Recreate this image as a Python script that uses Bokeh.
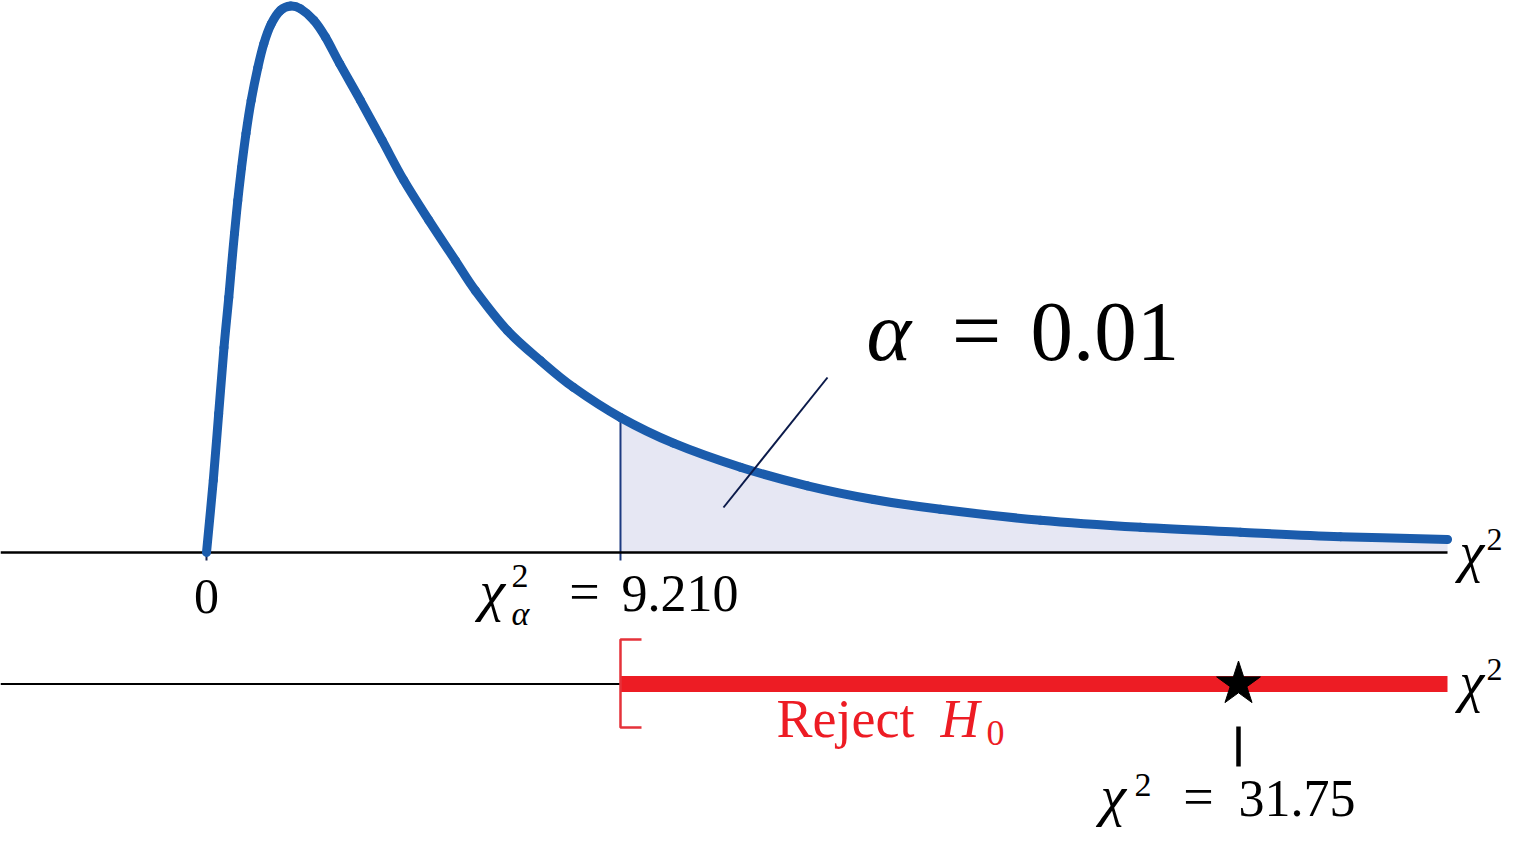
from bokeh.plotting import figure
from bokeh.models import Range1d, Label
from bokeh.embed import file_html
from bokeh.resources import INLINE

# ---------------- data (schematic chi-square curve) -------------
curve_x = [0.0, 0.151, 0.271, 0.389, 0.496, 0.554, 0.623, 0.696, 0.779, 0.879,
           0.994, 1.141, 1.275, 1.439, 1.646, 1.869, 2.091, 2.387, 2.647, 2.966, 3.426,
           3.909, 4.389, 4.946, 5.540, 5.984, 6.696, 7.431, 8.165, 9.210, 10.389, 11.880,
           13.370, 14.839, 16.329, 18.554, 20.779, 23.003, 25.228, 27.61]
curve_y = [0.0, 0.132, 0.254, 0.375, 0.467, 0.522, 0.584, 0.644, 0.704, 0.767,
           0.827, 0.887, 0.931, 0.967, 0.992, 1.000, 0.995, 0.974, 0.943, 0.894, 0.827,
           0.754, 0.681, 0.608, 0.534, 0.479, 0.406, 0.351, 0.302, 0.247, 0.200, 0.156,
           0.122, 0.097, 0.079, 0.059, 0.046, 0.037, 0.029, 0.024]
critical_value = 9.210
critical_label = "9.210"
alpha_label = "0.01"
test_statistic = 31.75
statistic_label = "31.75"
zero_label = "0"

# ---------------- layout helpers (pixel -> data units) ----------------
W, H = 1505, 829
PX0, KX = 206.0, 44.95        # x pixel of 0 and px per unit
PY0, KY = 552.0, 546.5        # y pixel of baseline and px per unit
def sx(px):
    return (px - PX0) / KX
def sy(py):
    return (PY0 - py) / KY
# lower number line uses its own (schematic) scale: critical value at the same spot
KS = 27.418
def vs(px):
    return critical_value + (px - 620.0) / KS

axis_end = sx(1447)

p = figure(width=W, height=H, output_backend="svg", toolbar_location=None,
           x_range=Range1d(sx(0), sx(W)), y_range=Range1d(sy(H), sy(0)),
           x_axis_type=None, y_axis_type=None, min_border=0,
           outline_line_color=None, background_fill_color="white",
           border_fill_color="white")
p.extra_x_ranges = {"stat": Range1d(vs(0), vs(W))}

BLUE = "#1B5CAC"
FILL = "#E6E7F3"
NAVY = "#1D3A80"
RED = "#ED1C24"
SERIF = "Liberation Serif"

# rejection-area fill
tail_x = [x for x in curve_x if x >= critical_value]
tail_y = [y for x, y in zip(curve_x, curve_y) if x >= critical_value]
p.varea(x=tail_x, y1=[0] * len(tail_x), y2=tail_y, fill_color=FILL)

# critical value line and zero tick
crit_top = curve_y[curve_x.index(critical_value)]
p.segment(x0=[critical_value], y0=[crit_top], x1=[critical_value], y1=[sy(560)],
          line_color=NAVY, line_width=2)
p.segment(x0=[0], y0=[sy(543)], x1=[0], y1=[sy(560)], line_color="#1A2450", line_width=2)

# top axis
p.line(x=[sx(0), axis_end], y=[0, 0], line_color="black", line_width=2.5)

# density curve, drawn as a smooth path through the read points (Catmull-Rom -> Bezier)
n = len(curve_x)
x0s, y0s, x1s, y1s, cx0, cy0, cx1, cy1 = ([] for _ in range(8))
for i in range(n - 1):
    a = max(i - 1, 0)
    d = min(i + 2, n - 1)
    x0s.append(curve_x[i]); y0s.append(curve_y[i])
    x1s.append(curve_x[i + 1]); y1s.append(curve_y[i + 1])
    cx0.append(curve_x[i] + (curve_x[i + 1] - curve_x[a]) / 6)
    cy0.append(curve_y[i] + (curve_y[i + 1] - curve_y[a]) / 6)
    cx1.append(curve_x[i + 1] - (curve_x[d] - curve_x[i]) / 6)
    cy1.append(curve_y[i + 1] - (curve_y[d] - curve_y[i]) / 6)
p.bezier(x0=x0s, y0=y0s, x1=x1s, y1=y1s, cx0=cx0, cy0=cy0, cx1=cx1, cy1=cy1,
         line_color=BLUE, line_width=9, line_cap="round")

# leader line for alpha
p.segment(x0=[sx(723)], y0=[sy(507)], x1=[sx(827)], y1=[sy(377)],
          line_color="#0B1A4A", line_width=2)

# lower number line
y_low = sy(683.5)
p.line(x=[sx(0), critical_value], y=[y_low, y_low], line_color="black", line_width=2)
p.line(x=[critical_value, axis_end], y=[y_low, y_low], line_color=RED, line_width=16,
       line_cap="butt")
p.line(x=[sx(641), critical_value, critical_value, sx(641)],
       y=[sy(639), sy(639), sy(727), sy(727)], line_color="#E5323A", line_width=2.5)
p.scatter(x=[test_statistic], y=[y_low], marker="star", size=46, fill_color="black",
          line_color="black", x_range_name="stat")
p.segment(x0=[test_statistic], y0=[sy(726)], x1=[test_statistic], y1=[sy(766)],
          line_color="black", line_width=4.5, x_range_name="stat")

BASE_SHIFT = 0.39   # observed offset of the rendered baseline, in em


def lab(px, py, text, size, style="normal", align="left", color="black", x=None):
    p.add_layout(Label(x=sx(px) if x is None else x, y=sy(py - BASE_SHIFT * size),
                       text=text, text_font=SERIF,
                       text_font_size=f"{size}px", text_font_style=style,
                       text_align=align, text_baseline="alphabetic",
                       text_color=color))

# tick labels
lab(0, 615, zero_label, 50, align="center", x=0)
lab(479, 613, "χ", 58, "italic")
lab(511, 589, "2", 34)
lab(511, 626, "α", 34, "italic")
lab(584, 613, "=", 54, align="center")
lab(621, 613, critical_label, 52)

# alpha annotation
lab(866, 364, "α", 85, "italic")
lab(976, 364, "=", 88, align="center")
lab(1030, 365, alpha_label, 85)

# axis names
lab(1459, 573, "χ", 56, "italic")
lab(1486, 551, "2", 32)
lab(1459, 703, "χ", 56, "italic")
lab(1486, 681, "2", 32)

# reject label
lab(776, 740, "Reject", 54, color=RED)
lab(940, 740, "H", 54, "italic", color=RED)
lab(986, 747, "0", 36, color=RED)

# test statistic label
lab(1100, 818, "χ", 58, "italic")
lab(1134, 798, "2", 34)
lab(1198, 818, "=", 54, align="center")
lab(1238, 818, statistic_label, 52)

open("out.html", "w").write(file_html(p, INLINE))
